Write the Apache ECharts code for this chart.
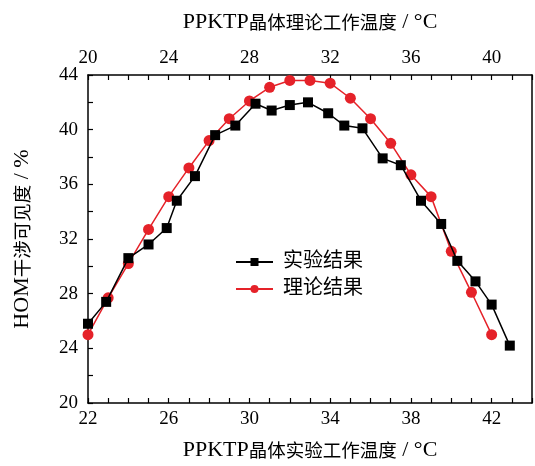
<!DOCTYPE html>
<html>
<head>
<meta charset="utf-8">
<script src="https://cdn.jsdelivr.net/npm/echarts@6/dist/echarts.min.js"></script>
<style>
  html, body { margin: 0; padding: 0; background: #fff; }
  #chart { width: 535px; height: 466px; }
</style>
</head>
<body>
<div id="chart"></div>
<script>
// 实验结果 (bottom axis temperature)
const expTemp = [22.0, 22.9, 24.0, 25.0, 25.9, 26.4, 27.3, 28.3, 29.3, 30.3, 31.1, 32.0,
                 32.9, 33.9, 34.7, 35.6, 36.6, 37.5, 38.5, 39.5, 40.3, 41.2, 42.0, 42.9];
const expVis = [25.8, 27.4, 30.6, 31.6, 32.8, 34.8, 36.6, 39.6, 40.3, 41.9, 41.4, 41.8,
                42.0, 41.2, 40.3, 40.1, 37.9, 37.4, 34.8, 33.1, 30.4, 28.9, 27.2, 24.2];
// 理论结果 (top axis temperature)
const thTemp = [20, 21, 22, 23, 24, 25, 26, 27, 28, 29, 30, 31, 32, 33, 34, 35, 36, 37, 38, 39, 40];
const thVis = [25.0, 27.7, 30.2, 32.7, 35.1, 37.2, 39.2, 40.8, 42.1, 43.1, 43.6,
               43.6, 43.4, 42.3, 40.8, 39.0, 36.7, 35.1, 31.1, 28.1, 25.0];

const serif = '"Liberation Serif", "Noto Sans CJK SC", serif';
const cjk = '"Noto Sans CJK SC", sans-serif';
const red = '#e52229';

const axisLine = { show: true, lineStyle: { color: '#000', width: 1.5 } };
const tick = { show: true, inside: true, length: 5, lineStyle: { color: '#000', width: 1.2 } };
const labelStyle = { color: '#000', fontFamily: serif, fontSize: 19 };
const nameStyle = {
  color: '#000',
  rich: {
    a: { fontFamily: '"Liberation Serif", serif', fontSize: 22, color: '#000' },
    b: { fontFamily: cjk, fontSize: 18.5, color: '#000' }
  }
};

const chart = echarts.init(document.getElementById('chart'));
chart.setOption({
  animation: false,
  grid: { left: 88, right: 1, top: 75, bottom: 60, containLabel: false },
  legend: {
    orient: 'vertical',
    left: 230,
    top: 247,
    itemWidth: 37,
    itemHeight: 10,
    itemGap: 7,
    textStyle: { color: '#000', fontFamily: serif, fontSize: 20, padding: [0, 0, 0, 5] },
    data: ['实验结果', '理论结果']
  },
  xAxis: [
    {
      type: 'value', position: 'bottom', min: 22, max: 44, interval: 1,
      axisLine, axisTick: tick, splitLine: { show: false },
      axisLabel: Object.assign({ margin: 7, formatter: v => ((v - 22) % 4 === 0 && v < 44) ? String(v) : '' }, labelStyle),
      name: '{a|PPKTP}{b|晶体实验工作温度}{a| / °C}', nameLocation: 'middle', nameGap: 36, nameTextStyle: nameStyle
    },
    {
      type: 'value', position: 'top', min: 20, max: 42, interval: 1,
      axisLine, axisTick: tick, splitLine: { show: false },
      axisLabel: Object.assign({ margin: 7, formatter: v => (v % 4 === 0 && v < 42) ? String(v) : '' }, labelStyle),
      name: '{a|PPKTP}{b|晶体理论工作温度}{a| / °C}', nameLocation: 'middle', nameGap: 42, nameTextStyle: nameStyle
    }
  ],
  yAxis: [
    {
      type: 'value', position: 'left', min: 20, max: 44, interval: 2,
      axisLine, axisTick: tick, splitLine: { show: false },
      axisLabel: Object.assign({ margin: 10, formatter: v => (v % 4 === 0) ? String(v) : '' }, labelStyle),
      name: '{a|HOM}{b|干涉可见度}{a| / %}', nameLocation: 'middle', nameGap: 55, nameRotate: 90, nameTextStyle: nameStyle
    },
    {
      type: 'value', position: 'right', min: 20, max: 44, interval: 2,
      axisLine, axisTick: { show: false }, axisLabel: { show: false }, splitLine: { show: false }
    }
  ],
  series: [
    {
      name: '实验结果', type: 'line', xAxisIndex: 0, yAxisIndex: 0,
      data: expTemp.map((t, i) => [t, expVis[i]]),
      symbol: 'rect', symbolSize: 10,
      lineStyle: { color: '#000', width: 1.5 },
      itemStyle: { color: '#000' },
      z: 3
    },
    {
      name: '理论结果', type: 'line', xAxisIndex: 1, yAxisIndex: 0,
      data: thTemp.map((t, i) => [t, thVis[i]]),
      symbol: 'circle', symbolSize: 11,
      lineStyle: { color: red, width: 1.5 },
      itemStyle: { color: red },
      z: 2
    }
  ]
});
</script>
</body>
</html>
